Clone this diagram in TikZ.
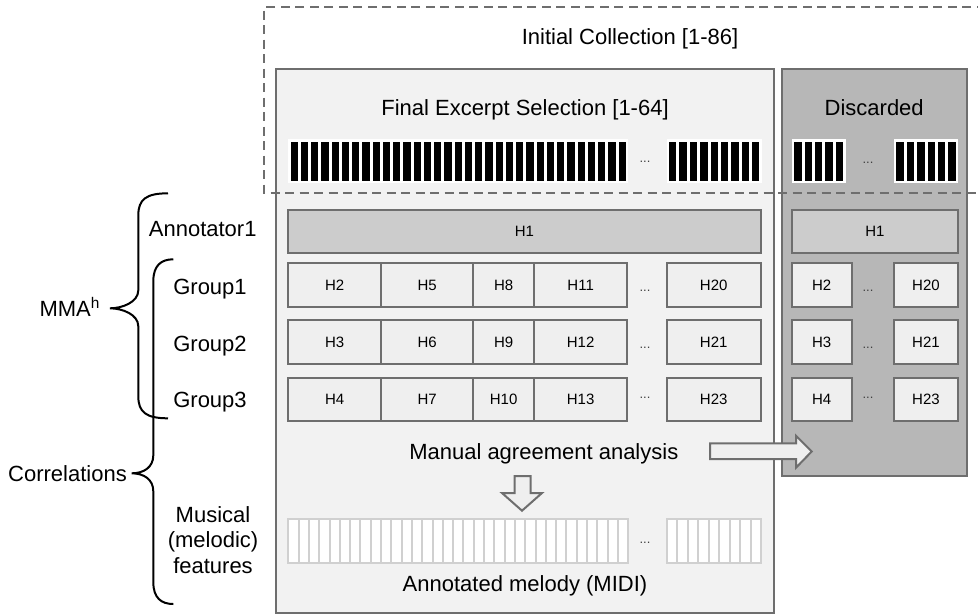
\documentclass[tikz,border=0pt]{standalone}
\usepackage{fontspec}
\setmainfont{Liberation Sans}
\definecolor{edge}{HTML}{6E6E6E}
\definecolor{finalfill}{HTML}{F2F2F2}
\definecolor{discfill}{HTML}{B7B7B7}
\definecolor{hfill}{HTML}{EFEFEF}
\definecolor{honefill}{HTML}{CCCCCC}
\definecolor{melody}{HTML}{D0D0D0}
\definecolor{dashcol}{HTML}{6E6E6E}
\newcommand\blackbars[5]{%
  \fill[white] (#1,#4) rectangle (#2,#5);
  \pgfmathsetmacro\bpitch{(#2-#1-4.8+3)/#3}
  \foreach \i in {1,...,#3}{
    \fill[black] ({#1+2.4+(\i-1)*\bpitch},{#4+2.4}) rectangle ({#1+2.4+\i*\bpitch-3},{#5-2.4});
  }}
\newcommand\melodybars[5]{%
  \draw[melody, line width=2pt, fill=white] (#1,#4) rectangle (#2,#5);
  \pgfmathsetmacro\mpitch{(#2-#1)/#3}
  \pgfmathtruncatemacro\mlast{#3-1}
  \foreach \i in {1,...,\mlast}{
    \draw[melody, line width=2pt] ({#1+\i*\mpitch},#4) -- ({#1+\i*\mpitch},#5);
  }}
\newcommand\hbx[5]{\node[hbox, minimum width={(#3-#2)*1pt}] (#1) at ({(#2+#3)/2},{#4+21.75}) {#5};}
\newcommand\mybrace[6]{% xend ytop xv xtip ymid ybot
  \draw[line width=2pt] (#1,#2) .. controls ({#3+8},#2) and (#3,{#2+6}) .. (#3,{#2+22})
    -- (#3,{#5-18}) .. controls (#3,{#5-6}) and ({#4+12},#5) .. (#4,#5)
    .. controls ({#4+12},#5) and (#3,{#5+6}) .. (#3,{#5+18})
    -- (#3,{#6-22}) .. controls (#3,{#6-6}) and ({#3+8},#6) .. (#1,#6);}
\begin{document}
\begin{tikzpicture}[x=1pt,y=-1pt,
  big/.style={font=\fontsize{22}{25.5}\selectfont, inner sep=0pt, outer sep=0pt},
  dotsn/.style={font=\fontsize{13}{15}\selectfont, text=black!75, inner sep=0pt, anchor=base},
  hbox/.style={draw=edge, fill=hfill, line width=2pt, inner sep=0pt, outer sep=0pt,
    minimum height=43.5pt, font=\fontsize{15}{18}\selectfont},
  panel/.style={draw=edge, line width=2pt, inner sep=0pt, outer sep=0pt},
  blockarrow/.style={draw=edge, fill=hfill, line width=2pt, line join=miter},
  dashbox/.style={draw=dashcol, line width=2pt, dash pattern=on 9pt off 5.5pt}]
\useasboundingbox (0,0) rectangle (978,614);

% panels
\node[panel, fill=finalfill, minimum width=498pt, minimum height=543.2pt] (final) at (525,340.9) {};
\node[panel, fill=discfill, minimum width=185pt, minimum height=406.4pt] (disc) at (874.2,272.5) {};

% titles
\node[big, anchor=base] (initial) at (630,44.6) {Initial Collection [1-86]};
\node[big, anchor=base] (finaltitle) at (525,115.2) {Final Excerpt Selection [1-64]};
\node[big, anchor=base] (disctitle) at (874.2,115.2) {Discarded};

% excerpt bars
\blackbars{288.3}{628.3}{33}{139.3}{183.3}
\blackbars{666.7}{761.7}{9}{139.3}{183.3}
\blackbars{791.7}{845.7}{5}{139.3}{183.3}
\blackbars{894}{958}{6}{139.3}{183.3}
\node[dotsn] (d0a) at (645,162) {...};
\node[dotsn] (d0b) at (868,163) {...};

% H1 rows
\node[hbox, fill=honefill, minimum width=472.4pt, minimum height=43.2pt] (h1) at (524.5,231.1) {H1};
\node[hbox, fill=honefill, minimum width=166.3pt, minimum height=43.2pt] (dh1) at (874.85,231.1) {H1};

% group rows
\hbx{h2}{288.3}{381}{263.3}{H2}
\hbx{h5}{381}{473.3}{263.3}{H5}
\hbx{h8}{473.3}{534}{263.3}{H8}
\hbx{h11}{534}{627.3}{263.3}{H11}
\hbx{h20}{666.7}{760.7}{263.3}{H20}
\hbx{h3}{288.3}{381}{320.3}{H3}
\hbx{h6}{381}{473.3}{320.3}{H6}
\hbx{h9}{473.3}{534}{320.3}{H9}
\hbx{h12}{534}{627.3}{320.3}{H12}
\hbx{h21}{666.7}{760.7}{320.3}{H21}
\hbx{h4}{288.3}{381}{377.7}{H4}
\hbx{h7}{381}{473.3}{377.7}{H7}
\hbx{h10}{473.3}{534}{377.7}{H10}
\hbx{h13}{534}{627.3}{377.7}{H13}
\hbx{h23}{666.7}{760.7}{377.7}{H23}
\hbx{dh2}{791.7}{851.7}{263.3}{H2}
\hbx{dh20}{894}{958}{263.3}{H20}
\hbx{dh3}{791.7}{851.7}{320.3}{H3}
\hbx{dh21}{894}{958}{320.3}{H21}
\hbx{dh4}{791.7}{851.7}{377.7}{H4}
\hbx{dh23}{894}{958}{377.7}{H23}
\node[dotsn] (d1) at (645,291.5) {...};
\node[dotsn] (d2) at (645,348) {...};
\node[dotsn] (d3) at (645,398) {...};
\node[dotsn] (dd1) at (868,291.5) {...};
\node[dotsn] (dd2) at (868,348) {...};
\node[dotsn] (dd3) at (868,398) {...};

% analysis and melody
\node[big, anchor=base] (manual) at (543.8,459.6) {Manual agreement analysis};
\melodybars{288.3}{628.3}{33}{519}{562.7}
\melodybars{666.7}{761}{9}{519}{562.7}
\node[dotsn] (d4) at (645,543) {...};
\node[big, anchor=base] (melodytxt) at (525,591.2) {Annotated melody (MIDI)};

% block arrows
\draw[blockarrow] (710,443.3) -- (796,443.3) -- (796,435.7) -- (811.7,451.5)
  -- (796,467.7) -- (796,459) -- (710,459) -- cycle;
\draw[blockarrow] (514.5,476) -- (530.5,476) -- (530.5,493) -- (542,493)
  -- (522,510.7) -- (502,493) -- (514.5,493) -- cycle;

% dashed initial collection box
\draw[dashbox] (1000,6.7) -- (264.3,6.7) -- (264.3,192.7) -- (1000,192.7);

% left labels
\node[big, anchor=base] (annot) at (202.7,236.2) {Annotator1};
\node[big, anchor=base] (g1) at (210,294.6) {Group1};
\node[big, anchor=base] (g2) at (210,351.2) {Group2};
\node[big, anchor=base] (g3) at (210,407.9) {Group3};
\node[big, align=center] (musical) at (213,540) {Musical\\(melodic)\\features};
\node[big, anchor=base] (mma) at (69.7,316.2) {MMA\textsuperscript{h}};
\node[big, anchor=base] (corr) at (67.5,481.2) {Correlations};

% braces
\mybrace{168}{193.3}{138.3}{110}{308.3}{418.3}
\mybrace{173.3}{259.3}{153.3}{131.7}{473.3}{604}
\end{tikzpicture}
\end{document}
